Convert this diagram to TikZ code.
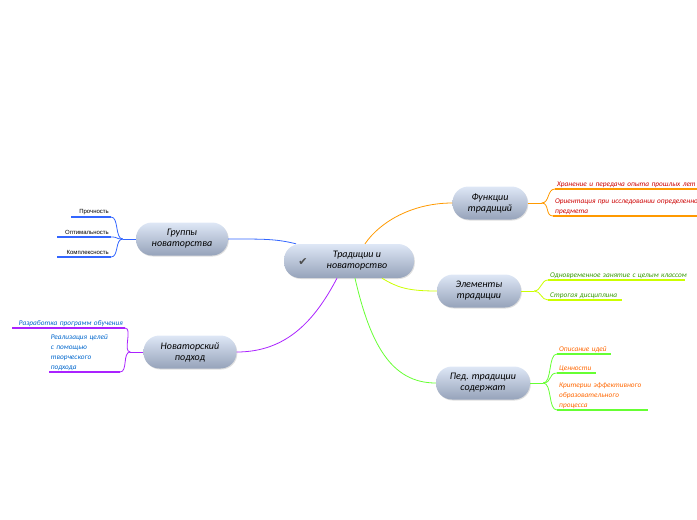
\documentclass[tikz,border=0pt]{standalone}
\usepackage{fontspec}
\setmainfont{Carlito}
\newfontfamily\smallsans{Liberation Sans}
\newfontfamily\dejavu{DejaVu Sans}
\usepackage{xcolor}
\usepackage{tikz}
\usetikzlibrary{shadows}

\definecolor{grpblue}{RGB}{51,102,255}
\definecolor{novpurple}{RGB}{170,34,255}
\definecolor{funcorange}{RGB}{255,153,0}
\definecolor{funcred}{RGB}{204,0,0}
\definecolor{elemyellow}{RGB}{204,255,0}
\definecolor{elemgreen}{RGB}{51,153,0}
\definecolor{pedgreen}{RGB}{102,255,51}
\definecolor{pedorange}{RGB}{255,102,0}
\definecolor{novblue}{RGB}{0,102,204}
\definecolor{topictop}{RGB}{222,231,246}
\definecolor{topicbottom}{RGB}{150,163,186}

\begin{document}
\begin{tikzpicture}[x=1pt, y=-1pt,
  topic/.style={rectangle, rounded corners=16pt, minimum height=33pt, align=center,
    top color=topictop, bottom color=topicbottom,
    drop shadow={opacity=0.25, shadow xshift=0.8pt, shadow yshift=-1pt},
    font=\itshape\fontsize{10}{11}\selectfont},
  leaf/.style={inner xsep=2pt, inner ysep=1.5pt, align=left,
    font=\itshape\fontsize{7.3}{10}\selectfont},
  sleaf/.style={inner xsep=2pt, inner ysep=2pt, align=right,
    font=\smallsans\fontsize{6}{7}\selectfont},
  link/.style={line width=0.8pt},
  uline/.style={line width=1.3pt}]
\useasboundingbox (0,0) rectangle (697,520);

% main topic and branches
\node[topic, minimum width=130pt, minimum height=34pt] (root) at (349,261)
  {\hspace*{16pt}Традиции и\\\hspace*{16pt}новаторство};
\node[font=\dejavu\fontsize{11}{11}\selectfont, text=black!70] (tick) at (303,262) {✔};

\node[topic, minimum width=75pt] (func) at (490,203) {Функции\\традиций};
\node[topic, minimum width=84pt] (elem) at (479,291) {Элементы\\традиции};
\node[topic, minimum width=94pt] (ped) at (483,383) {Пед. традиции\\содержат};
\node[topic, minimum width=92pt] (grp) at (182,239) {Группы\\новаторства};
\node[topic, minimum width=93pt] (nov) at (190,352) {Новаторский\\подход};

\draw[link, funcorange] ([xshift=16pt]root.north) .. controls +(15,-22) and +(-40,0) .. (func.west);
\draw[link, elemyellow] ([xshift=33pt]root.south) .. controls +(15,9) and +(-30,0) .. (elem.west);
\draw[link, pedgreen] ([xshift=6pt]root.south) .. controls +(15,65) and +(-45,0) .. (ped.west);
\draw[link, grpblue] (grp.east) .. controls +(35,0) and +(-20,-5) .. ([xshift=-53pt]root.north);
\draw[link, novpurple] ([xshift=-12pt]root.south) .. controls +(-22,42) and +(50,0) .. (nov.east);

% Функции традиций
\node[leaf, text=funcred, text width=200pt, anchor=south west] (f1) at (555,189)
  {Хранение и передача опыта прошлых лет};
\node[leaf, text=funcred, text width=200pt, anchor=south west] (f2) at (553,216)
  {Ориентация при исследовании определенного\\предмета};
\coordinate (ffork) at ([xshift=14pt]func.east);
\draw[link, funcorange] (func.east) -- (ffork);
\foreach \l in {f1,f2} {
  \draw[link, funcorange] (ffork) .. controls +(8,0) and +(-8,0) .. (\l.south west);
  \draw[uline, funcorange] (\l.south west) -- (\l.south east);
}

% Элементы традиции
\node[leaf, text=elemgreen, text width=133pt, anchor=south west] (e1) at (548,280)
  {\mbox{Одновременное занятие с целым классом}};
\node[leaf, text=elemgreen, text width=70pt, anchor=south west] (e2) at (548,300)
  {Строгая дисциплина};
\coordinate (efork) at ([xshift=13pt]elem.east);
\draw[link, elemyellow] (elem.east) -- (efork);
\foreach \l in {e1,e2} {
  \draw[link, elemyellow] (efork) .. controls +(7,0) and +(-7,0) .. (\l.south west);
  \draw[uline, elemyellow] (\l.south west) -- (\l.south east);
}

% Пед. традиции содержат
\node[leaf, text=pedorange, text width=50pt, anchor=south west] (p1) at (557,354)
  {Описание идей};
\node[leaf, text=pedorange, text width=35pt, anchor=south west] (p2) at (557,373)
  {Ценности};
\node[leaf, text=pedorange, text width=87pt, anchor=south west] (p3) at (557,410)
  {Критерии эффективного\\образовательного\\процесса};
\coordinate (pfork) at ([xshift=13pt]ped.east);
\draw[link, pedgreen] (ped.east) -- (pfork);
\foreach \l in {p1,p2,p3} {
  \draw[link, pedgreen] (pfork) .. controls +(9,0) and +(-9,0) .. (\l.south west);
  \draw[uline, pedgreen] (\l.south west) -- (\l.south east);
}

% Группы новаторства
\node[sleaf, text width=36pt, anchor=south east] (g1) at (111,217) {Прочность};
\node[sleaf, text width=50pt, anchor=south east] (g2) at (111,237) {Оптимальность};
\node[sleaf, text width=50pt, anchor=south east] (g3) at (111,257) {Комплексность};
\coordinate (gfork) at ([xshift=-13pt]grp.west);
\draw[link, grpblue] (grp.west) -- (gfork);
\foreach \l in {g1,g2,g3} {
  \draw[link, grpblue] (gfork) .. controls +(-8,0) and +(8,0) .. (\l.south east);
  \draw[uline, grpblue] (\l.south east) -- (\l.south west);
}

% Новаторский подход
\node[leaf, text=novblue, text width=109pt, align=right, anchor=south east] (n1) at (125,328)
  {Разработка программ обучения};
\node[leaf, text=novblue, text width=67pt, anchor=south east] (n2) at (120,372)
  {Реализация целей\\с помощью\\творческого\\подхода};
\coordinate (nfork) at ([xshift=-13pt]nov.west);
\draw[link, novpurple] (nov.west) -- (nfork);
\foreach \l in {n1,n2} {
  \draw[link, novpurple] (nfork) .. controls +(-8,0) and +(8,0) .. (\l.south east);
  \draw[uline, novpurple] (\l.south east) -- (\l.south west);
}
\end{tikzpicture}
\end{document}
